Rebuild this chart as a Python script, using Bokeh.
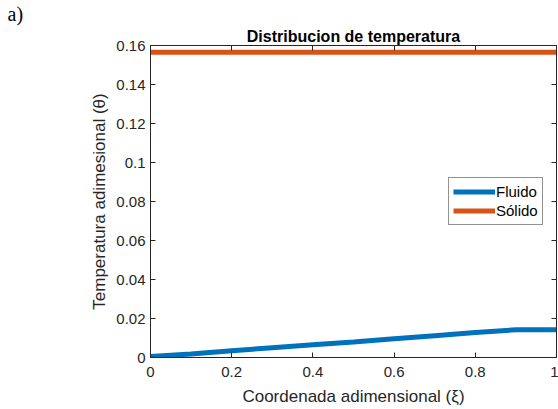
from bokeh.plotting import figure
from bokeh.models import Legend, LegendItem, LinearAxis, Title, Range1d, FixedTicker
from bokeh.embed import file_html
from bokeh.resources import INLINE

# Data
xi = [0.0, 0.1, 0.2, 0.3, 0.4, 0.5, 0.6, 0.7, 0.8, 0.9, 1.0]
theta_fluido = [0.0005, 0.0018, 0.0035, 0.0050, 0.0065, 0.0080, 0.0096, 0.0112, 0.0128, 0.0142, 0.0142]
theta_solido = [0.1565, 0.1565, 0.1565, 0.1565, 0.1565, 0.1565, 0.1565, 0.1565, 0.1565, 0.1565, 0.1565]

x_ticks = [0, 0.2, 0.4, 0.6, 0.8, 1.0]
x_tick_labels = ["0", "0.2", "0.4", "0.6", "0.8", "1"]
y_ticks = [0, 0.02, 0.04, 0.06, 0.08, 0.10, 0.12, 0.14, 0.16]
y_tick_labels = ["0", "0.02", "0.04", "0.06", "0.08", "0.1", "0.12", "0.14", "0.16"]

title_text = "Distribucion de temperatura"
x_label = "Coordenada adimensional (\u03be)"
y_label = "Temperatura adimesional (\u03b8)"
series_names = ["Fluido", "S\u00f3lido"]
panel_tag = "a)"

FONT = "Liberation Sans"
AX = "#262626"

p = figure(width=558, height=409, output_backend="svg", toolbar_location=None,
           x_range=Range1d(0, 1), y_range=Range1d(0, 0.16),
           min_border_left=150, min_border_right=2, min_border_top=45, min_border_bottom=52)
p.title = None

p.xgrid.visible = False
p.ygrid.visible = False
p.outline_line_color = AX
p.outline_line_width = 1
p.background_fill_color = "white"
p.border_fill_color = "white"

def style(ax, labels=True):
    ax.axis_line_color = AX
    ax.major_tick_line_color = AX
    ax.major_tick_in = 5
    ax.major_tick_out = 0
    ax.minor_tick_line_color = None
    ax.major_label_text_font = FONT
    ax.major_label_text_font_size = "15px" if labels else "1px"
    ax.major_label_text_color = AX if labels else None
    ax.axis_label_text_font = FONT
    ax.axis_label_text_font_size = "17px"
    ax.axis_label_text_font_style = "normal"
    ax.axis_label_text_color = AX

xa = p.xaxis[0]
xa.ticker = FixedTicker(ticks=x_ticks)
xa.major_label_overrides = {t: l for t, l in zip(x_ticks, x_tick_labels)}
xa.axis_label = x_label
style(xa)
xa.major_label_standoff = 9
xa.axis_label_standoff = 7

ya = p.yaxis[0]
ya.ticker = FixedTicker(ticks=y_ticks)
ya.major_label_overrides = {t: l for t, l in zip(y_ticks, y_tick_labels)}
ya.axis_label = y_label
style(ya)
ya.major_label_standoff = 5
ya.axis_label_standoff = 4

ra = LinearAxis(ticker=FixedTicker(ticks=y_ticks), major_label_standoff=0)
style(ra, labels=False)
p.add_layout(ra, "right")
ta = LinearAxis(ticker=FixedTicker(ticks=x_ticks), major_label_standoff=0)
style(ta, labels=False)
p.add_layout(ta, "above")

main_title = Title(text=title_text, align="center", standoff=2,
                   text_font=FONT, text_font_size="16px",
                   text_font_style="bold", text_color="#000000")
p.add_layout(main_title, "above")

tag = Title(text=panel_tag, align="left", offset=-143, standoff=0,
            text_font="Liberation Serif", text_font_size="20px",
            text_font_style="normal", text_color="#000000")
p.add_layout(tag, "above")

r1 = p.line(xi, theta_fluido, line_color="#0072BD", line_width=5)
r2 = p.line(xi, theta_solido, line_color="#D95319", line_width=5)

leg = Legend(items=[LegendItem(label=series_names[0], renderers=[r1]),
                    LegendItem(label=series_names[1], renderers=[r2])],
             location=(298, 132))
leg.label_text_font = FONT
leg.label_text_font_size = "15px"
leg.label_text_color = "#000000"
leg.border_line_color = AX
leg.border_line_width = 1
leg.glyph_width = 42
leg.glyph_height = 19
leg.label_standoff = 1
leg.spacing = 0
leg.padding = 4
leg.margin = 0
leg.label_height = 19
p.add_layout(leg, "center")

open("out.html", "w").write(file_html(p, INLINE))
